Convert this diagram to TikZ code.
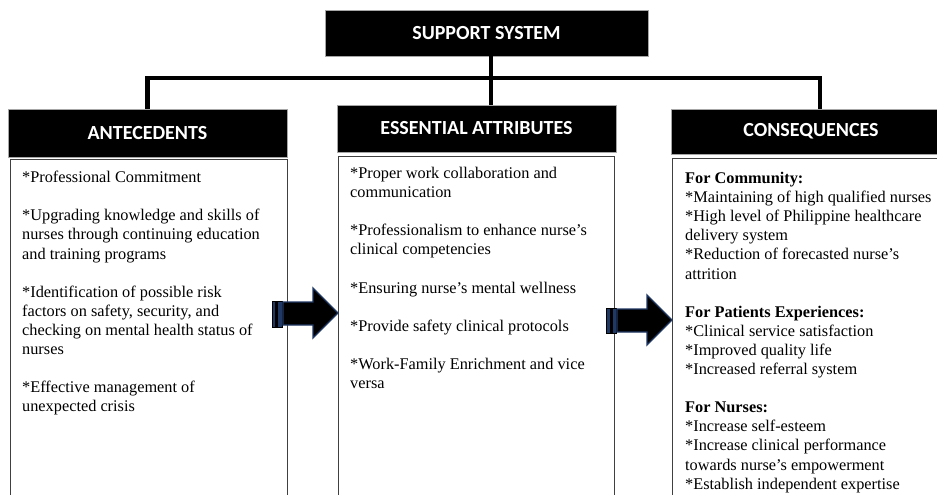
\documentclass[tikz,border=0pt]{standalone}
\usepackage{fontspec}
\setmainfont{Liberation Serif}
\newfontfamily\headfont{Carlito}
\usetikzlibrary{positioning}
\definecolor{navy}{HTML}{1F3864}
\tikzset{
  header/.style={fill=black, draw=gray!70, line width=0.8pt, text=white,
    font=\headfont\bfseries\fontsize{20}{24}\selectfont, inner sep=0pt},
  bodybox/.style={draw=black!75, line width=1.1pt, anchor=north west,
    minimum height=400pt, inner sep=0pt},
  bodytext/.style={anchor=north west, align=left, inner sep=0pt,
    font=\fontsize{16.3}{19.1}\selectfont},
  link/.style={line width=4.5pt, line join=miter},
  blockarrow/.style={fill=black, draw=navy, line width=1.3pt, line join=miter},
  arrowtail/.style={fill=navy, draw=black, line width=0.8pt}
}

\begin{document}
\begin{tikzpicture}[x=1pt, y=-1pt]
    \useasboundingbox (0,0) rectangle (937,495);
    \clip (0,0) rectangle (937,495);

    % headers
    \node[header, minimum width=323pt, minimum height=46pt] (support) at (486.5,33) {SUPPORT SYSTEM};
    \node[header, minimum width=279pt, minimum height=48pt] (ante) at (147.5,133) {ANTECEDENTS};
    \node[header, minimum width=279pt, minimum height=47pt] (attr) at (476.5,128.5) {ESSENTIAL ATTRIBUTES};
    \node[header, minimum width=280pt, minimum height=45pt] (cons) at (811,131.5) {CONSEQUENCES};

    % connectors
    \coordinate (split) at (491,78);
    \coordinate (consTop) at (820,109);
    \draw[link] (support.south -| split) -- (attr.north -| split);
    \draw[link] (ante.north) |- (split) -| (consTop);

    % bodies
    \node[bodybox, minimum width=277pt] (anteBody) at (10,159) {};
    \node[bodybox, minimum width=276pt] (attrBody) at (338,156) {};
    \node[bodybox, minimum width=300pt] (consBody) at (672,158) {};

    \node[bodytext] (anteText) at (22,171) {%
      *Professional Commitment\\[19.1pt]
      *Upgrading knowledge and skills of\\
      nurses through continuing education\\
      and training programs\\[19.1pt]
      *Identification of possible risk\\
      factors on safety, security, and\\
      checking on mental health status of\\
      nurses\\[19.1pt]
      *Effective management of\\
      unexpected crisis};
    \node[bodytext] (attrText) at (350,167) {%
      *Proper work collaboration and\\
      communication\\[19.1pt]
      *Professionalism to enhance nurse’s\\
      clinical competencies\\[19.1pt]
      *Ensuring nurse’s mental wellness\\[19.1pt]
      *Provide safety clinical protocols\\[19.1pt]
      *Work-Family Enrichment and vice\\
      versa};
    \node[bodytext] (consText) at (685,172) {%
      \textbf{For Community:}\\
      *Maintaining of high qualified nurses\\
      *High level of Philippine healthcare\\
      delivery system\\
      *Reduction of forecasted nurse’s\\
      attrition\\[19.1pt]
      \textbf{For Patients Experiences:}\\
      *Clinical service satisfaction\\
      *Improved quality life\\
      *Increased referral system\\[19.1pt]
      \textbf{For Nurses:}\\
      *Increase self-esteem\\
      *Increase clinical performance\\
      towards nurse’s empowerment\\
      *Establish independent expertise};

    % block arrows
    \draw[arrowtail] (272,301) rectangle (282,327);
    \fill (275,301) rectangle (278,327);
    \draw[blockarrow] (283,302) -- (313,302) -- (313,288) -- (338,313)
      -- (313,338) -- (313,325) -- (283,325) -- cycle;
    \draw[arrowtail] (606,308) rectangle (616,333);
    \fill (610,308) rectangle (613,333);
    \draw[blockarrow] (617,309) -- (647,309) -- (647,295) -- (672,320)
      -- (647,345) -- (647,332) -- (617,332) -- cycle;
\end{tikzpicture}
\end{document}
